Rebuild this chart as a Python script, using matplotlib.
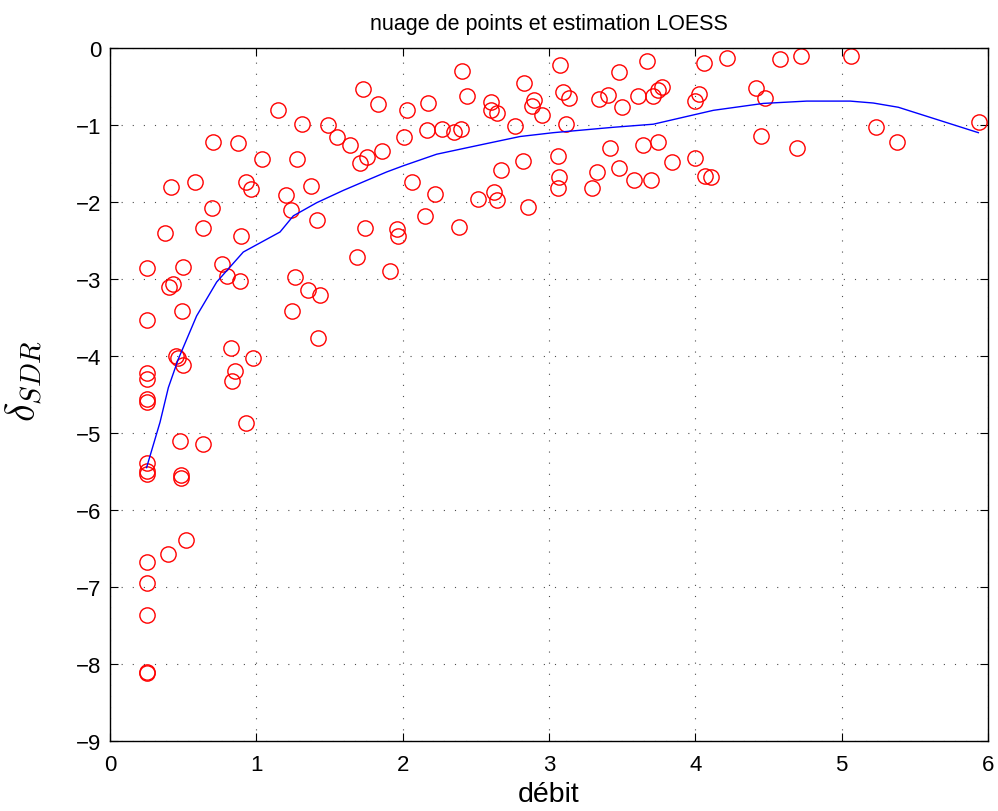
import numpy as np
import matplotlib
matplotlib.use('Agg')
import matplotlib.pyplot as plt

plt.rcParams['font.family'] = ['Liberation Sans', 'DejaVu Sans']
plt.rcParams['mathtext.fontset'] = 'cm'

# scatter: debit vs delta SDR
debit = [0.25, 0.25, 0.25, 0.25, 0.25, 0.25, 0.25, 0.25, 0.25, 0.25, 0.25, 0.25, 0.25, 0.25,
         1.731, 1.834, 1.150, 1.310, 1.492, 1.549, 1.640, 1.857, 1.754, 1.709,
         0.706, 0.877, 1.041, 1.276, 0.417, 0.581, 0.927, 0.964, 1.374, 1.200,
         1.235, 1.412, 0.695, 0.633, 0.376, 0.893, 1.743, 1.959, 1.970, 1.686,
         1.913, 0.497, 0.763, 0.797, 0.888, 0.428, 0.405, 1.264, 1.355, 1.435,
         1.241, 0.490, 1.424, 0.827, 0.451, 0.467, 0.497, 0.979, 0.854, 0.836,
         0.930, 0.478, 0.633, 0.485, 0.485, 0.517, 0.398,
         2.408, 2.437, 2.175, 2.032, 2.602, 2.602, 2.647, 2.829, 3.075, 3.094,
         3.139, 2.897, 2.886, 2.954, 3.114, 2.768, 2.168, 2.271, 2.351, 2.399,
         2.011, 3.478, 3.668, 3.344, 3.401, 3.497, 3.606, 3.713, 3.747, 3.774,
         3.998, 4.027, 3.064, 3.070, 3.060, 2.824, 2.670, 2.066, 2.221, 2.624,
         2.647, 2.513, 2.855, 2.153, 2.387, 3.415, 3.326, 3.481, 3.296, 3.583,
         3.695, 3.645, 3.747, 3.838, 3.998,
         4.059, 4.219, 4.579, 4.722, 5.064, 4.415, 4.476, 4.449, 4.693, 4.066,
         4.107, 5.234, 5.380, 5.939]
delta_sdr = [-2.86, -3.53, -4.22, -4.30, -4.56, -4.60, -5.39, -5.50, -5.53, -6.67, -6.95, -7.37, -8.10, -8.12,
             -0.53, -0.727, -0.81, -0.99, -1.00, -1.15, -1.26, -1.34, -1.41, -1.49,
             -1.22, -1.24, -1.44, -1.44, -1.81, -1.74, -1.74, -1.83, -1.79, -1.91,
             -2.10, -2.24, -2.08, -2.34, -2.40, -2.44, -2.34, -2.35, -2.44, -2.72,
             -2.90, -2.84, -2.81, -2.96, -3.03, -3.07, -3.11, -2.98, -3.14, -3.21,
             -3.42, -3.41, -3.77, -3.89, -4.00, -4.03, -4.12, -4.03, -4.20, -4.33,
             -4.87, -5.11, -5.14, -5.55, -5.58, -6.39, -6.57,
             -0.30, -0.63, -0.71, -0.81, -0.705, -0.805, -0.845, -0.46, -0.22, -0.575,
             -0.65, -0.675, -0.75, -0.87, -0.99, -1.01, -1.06, -1.05, -1.09, -1.05,
             -1.15, -0.31, -0.165, -0.66, -0.61, -0.77, -0.62, -0.63, -0.54, -0.51,
             -0.685, -0.60, -1.40, -1.67, -1.82, -1.47, -1.58, -1.74, -1.90, -1.87,
             -1.98, -1.96, -2.06, -2.18, -2.33, -1.30, -1.61, -1.56, -1.82, -1.72,
             -1.71, -1.26, -1.22, -1.48, -1.43,
             -0.20, -0.135, -0.14, -0.11, -0.11, -0.52, -0.65, -1.14, -1.30, -1.66,
             -1.68, -1.02, -1.22, -0.965]

# LOESS estimate
loess_x = [0.25, 0.342, 0.399, 0.467, 0.592, 0.729, 0.911, 1.162, 1.253, 1.412, 1.594,
           1.754, 1.891, 2.004, 2.232, 2.528, 2.802, 3.03, 3.44, 3.713, 3.895, 4.123,
           4.465, 4.761, 5.058, 5.216, 5.387, 5.934]
loess_y = [-5.45, -4.86, -4.41, -4.04, -3.48, -3.04, -2.65, -2.39, -2.18, -2.01, -1.85,
           -1.72, -1.61, -1.53, -1.38, -1.26, -1.15, -1.10, -1.03, -0.99, -0.91, -0.81,
           -0.72, -0.69, -0.69, -0.715, -0.77, -1.10]

fig = plt.figure(figsize=(9.98, 8.12), dpi=100)
ax = fig.add_axes([0.1102, 0.0862, 0.8798, 0.8535])

ax.plot(debit, delta_sdr, 'o', mfc='none', mec='red', ms=11, mew=1.0)
ax.plot(loess_x, loess_y, '-', color='blue', lw=1.0)

ax.set_xlim(0, 6)
ax.set_ylim(-9, 0)
ax.set_xticks(range(0, 7))
ax.set_yticks(range(-9, 1))
ax.grid(True, color='0.3', linestyle=(0, (1, 9)), linewidth=0.8)
ax.tick_params(direction='in', top=True, right=True, labelsize=16, length=6)
ax.tick_params(axis='x', pad=9)
ax.tick_params(axis='y', pad=6)
for s in ax.spines.values():
    s.set_linewidth(1.0)

ax.set_title('nuage de points et estimation LOESS', fontsize=15.5, pad=14)
ax.set_xlabel('débit', fontsize=20.5)
ax.xaxis.set_label_coords(0.5, -0.058)
ax.set_ylabel(r'$\delta_{SDR}$', fontsize=29)
ax.yaxis.set_label_coords(-0.074, 0.52)

plt.savefig('out.png', dpi=100)
